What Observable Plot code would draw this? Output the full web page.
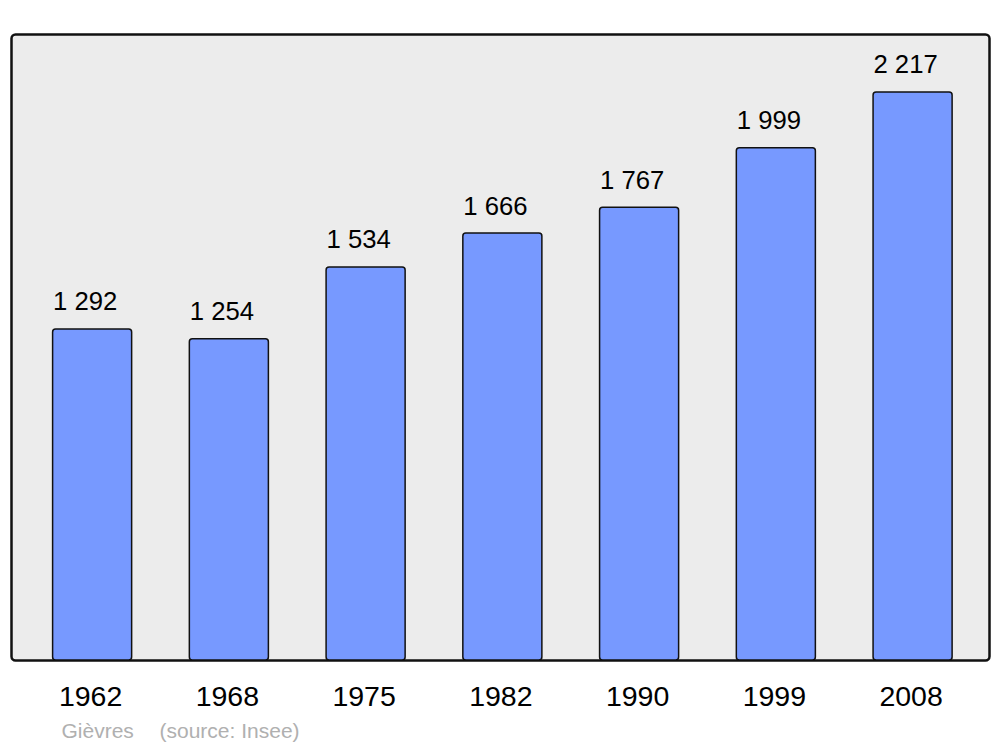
<!DOCTYPE html>
<html>
<head>
<meta charset="utf-8">
<script src="https://cdn.jsdelivr.net/npm/d3@7"></script>
<script src="https://cdn.jsdelivr.net/npm/@observablehq/plot@0.6"></script>
<style>
  html, body { margin: 0; padding: 0; background: #ffffff; }
  #chart svg { display: block; }
</style>
</head>
<body>
<div id="chart"></div>
<script>
const years = ["1962", "1968", "1975", "1982", "1990", "1999", "2008"];
const population = [1292, 1254, 1534, 1666, 1767, 1999, 2217];
const valueLabels = ["1 292", "1 254", "1 534", "1 666", "1 767", "1 999", "2 217"];
const townName = "Gièvres";
const sourceNote = "(source: Insee)";

const data = years.map((y, i) => ({year: y, pop: population[i], label: valueLabels[i]}));

const chart = Plot.plot({
  width: 1000,
  height: 747,
  marginTop: 34,
  marginBottom: 87,
  marginLeft: 11,
  marginRight: 11,
  style: {fontFamily: "Liberation Sans, Arial, sans-serif", background: "#ffffff"},
  x: {domain: years, paddingInner: 0.422, paddingOuter: 0.287, align: 0.53, round: false, label: null},
  y: {domain: [0, 2443], axis: null},
  marks: [
    Plot.frame({fill: "#ececec", stroke: "#111", strokeWidth: 2.5, rx: 4}),
    Plot.barY(data, {x: "year", y: "pop", fill: "#7799ff", stroke: "#111", strokeWidth: 1.5, rx: 3}),
    Plot.text(data, {x: "year", y: "pop", text: "label", dy: -19, dx: -7.5, lineAnchor: "bottom", fontSize: 25.7, fill: "#000"}),
    Plot.axisX({tickSize: 0, tickPadding: 25, fontSize: 28.5, dx: -2, color: "#000", label: null}),
    Plot.text([townName], {frameAnchor: "bottom-left", dx: 50, dy: 77, lineAnchor: "bottom", textAnchor: "start", fontSize: 21, fill: "#b0b0b0"}),
    Plot.text([sourceNote], {frameAnchor: "bottom-left", dx: 148, dy: 77, lineAnchor: "bottom", textAnchor: "start", fontSize: 21, fill: "#b0b0b0"})
  ]
});
document.getElementById("chart").appendChild(chart);
</script>
</body>
</html>
